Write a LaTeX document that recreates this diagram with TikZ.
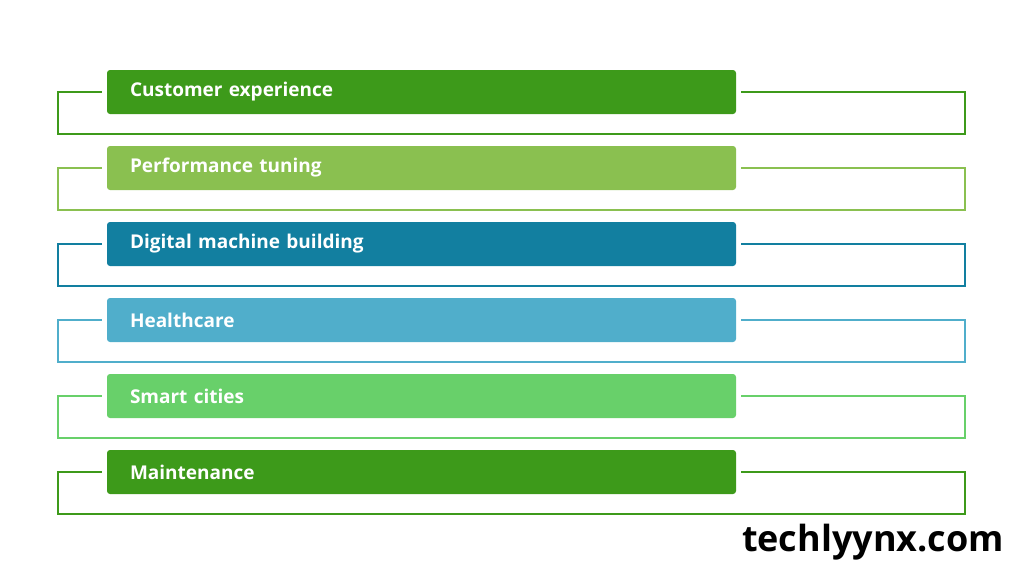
\documentclass[tikz,border=0pt]{standalone}
\usepackage{fontspec}
\setmainfont{Open Sans}
\usetikzlibrary{positioning}
\definecolor{cgreen}{RGB}{61,154,26}
\definecolor{clgreen}{RGB}{138,192,80}
\definecolor{cteal}{RGB}{18,127,160}
\definecolor{cblue}{RGB}{80,174,203}
\definecolor{cbright}{RGB}{104,208,106}

\begin{document}
\begin{tikzpicture}[x=1pt, y=-1pt]
    % Styles
    \tikzset{
        bar/.style={rectangle, rounded corners=3pt, minimum width=629pt, minimum height=44pt,
            text width=583pt, inner sep=0pt, font=\fontsize{19}{22}\selectfont\bfseries, text=white},
        frame/.style={line width=2.5pt}
    }
    \useasboundingbox (0,0) rectangle (1024,576);

    % Rows
    \foreach \i/\y/\c/\t in {1/92/cgreen/Customer experience, 2/168/clgreen/Performance tuning,
        3/244/cteal/Digital machine building, 4/320/cblue/Healthcare,
        5/396/cbright/Smart cities, 6/472/cgreen/Maintenance} {
        \node [bar, fill=\c] (bar\i) at (421.5,\y) {\t};
        \coordinate (l\i) at (58,\y+42);
        \coordinate (r\i) at (965,\y+42);
        \draw [frame, draw=\c] ([xshift=-5pt]bar\i.west) -| (l\i) -- (r\i) |- ([xshift=5pt]bar\i.east);
    }

    % Watermark
    \node [font=\fontsize{36}{40}\selectfont\bfseries, text=black] (site) at (873,542) {techlyynx.com};
\end{tikzpicture}
\end{document}
